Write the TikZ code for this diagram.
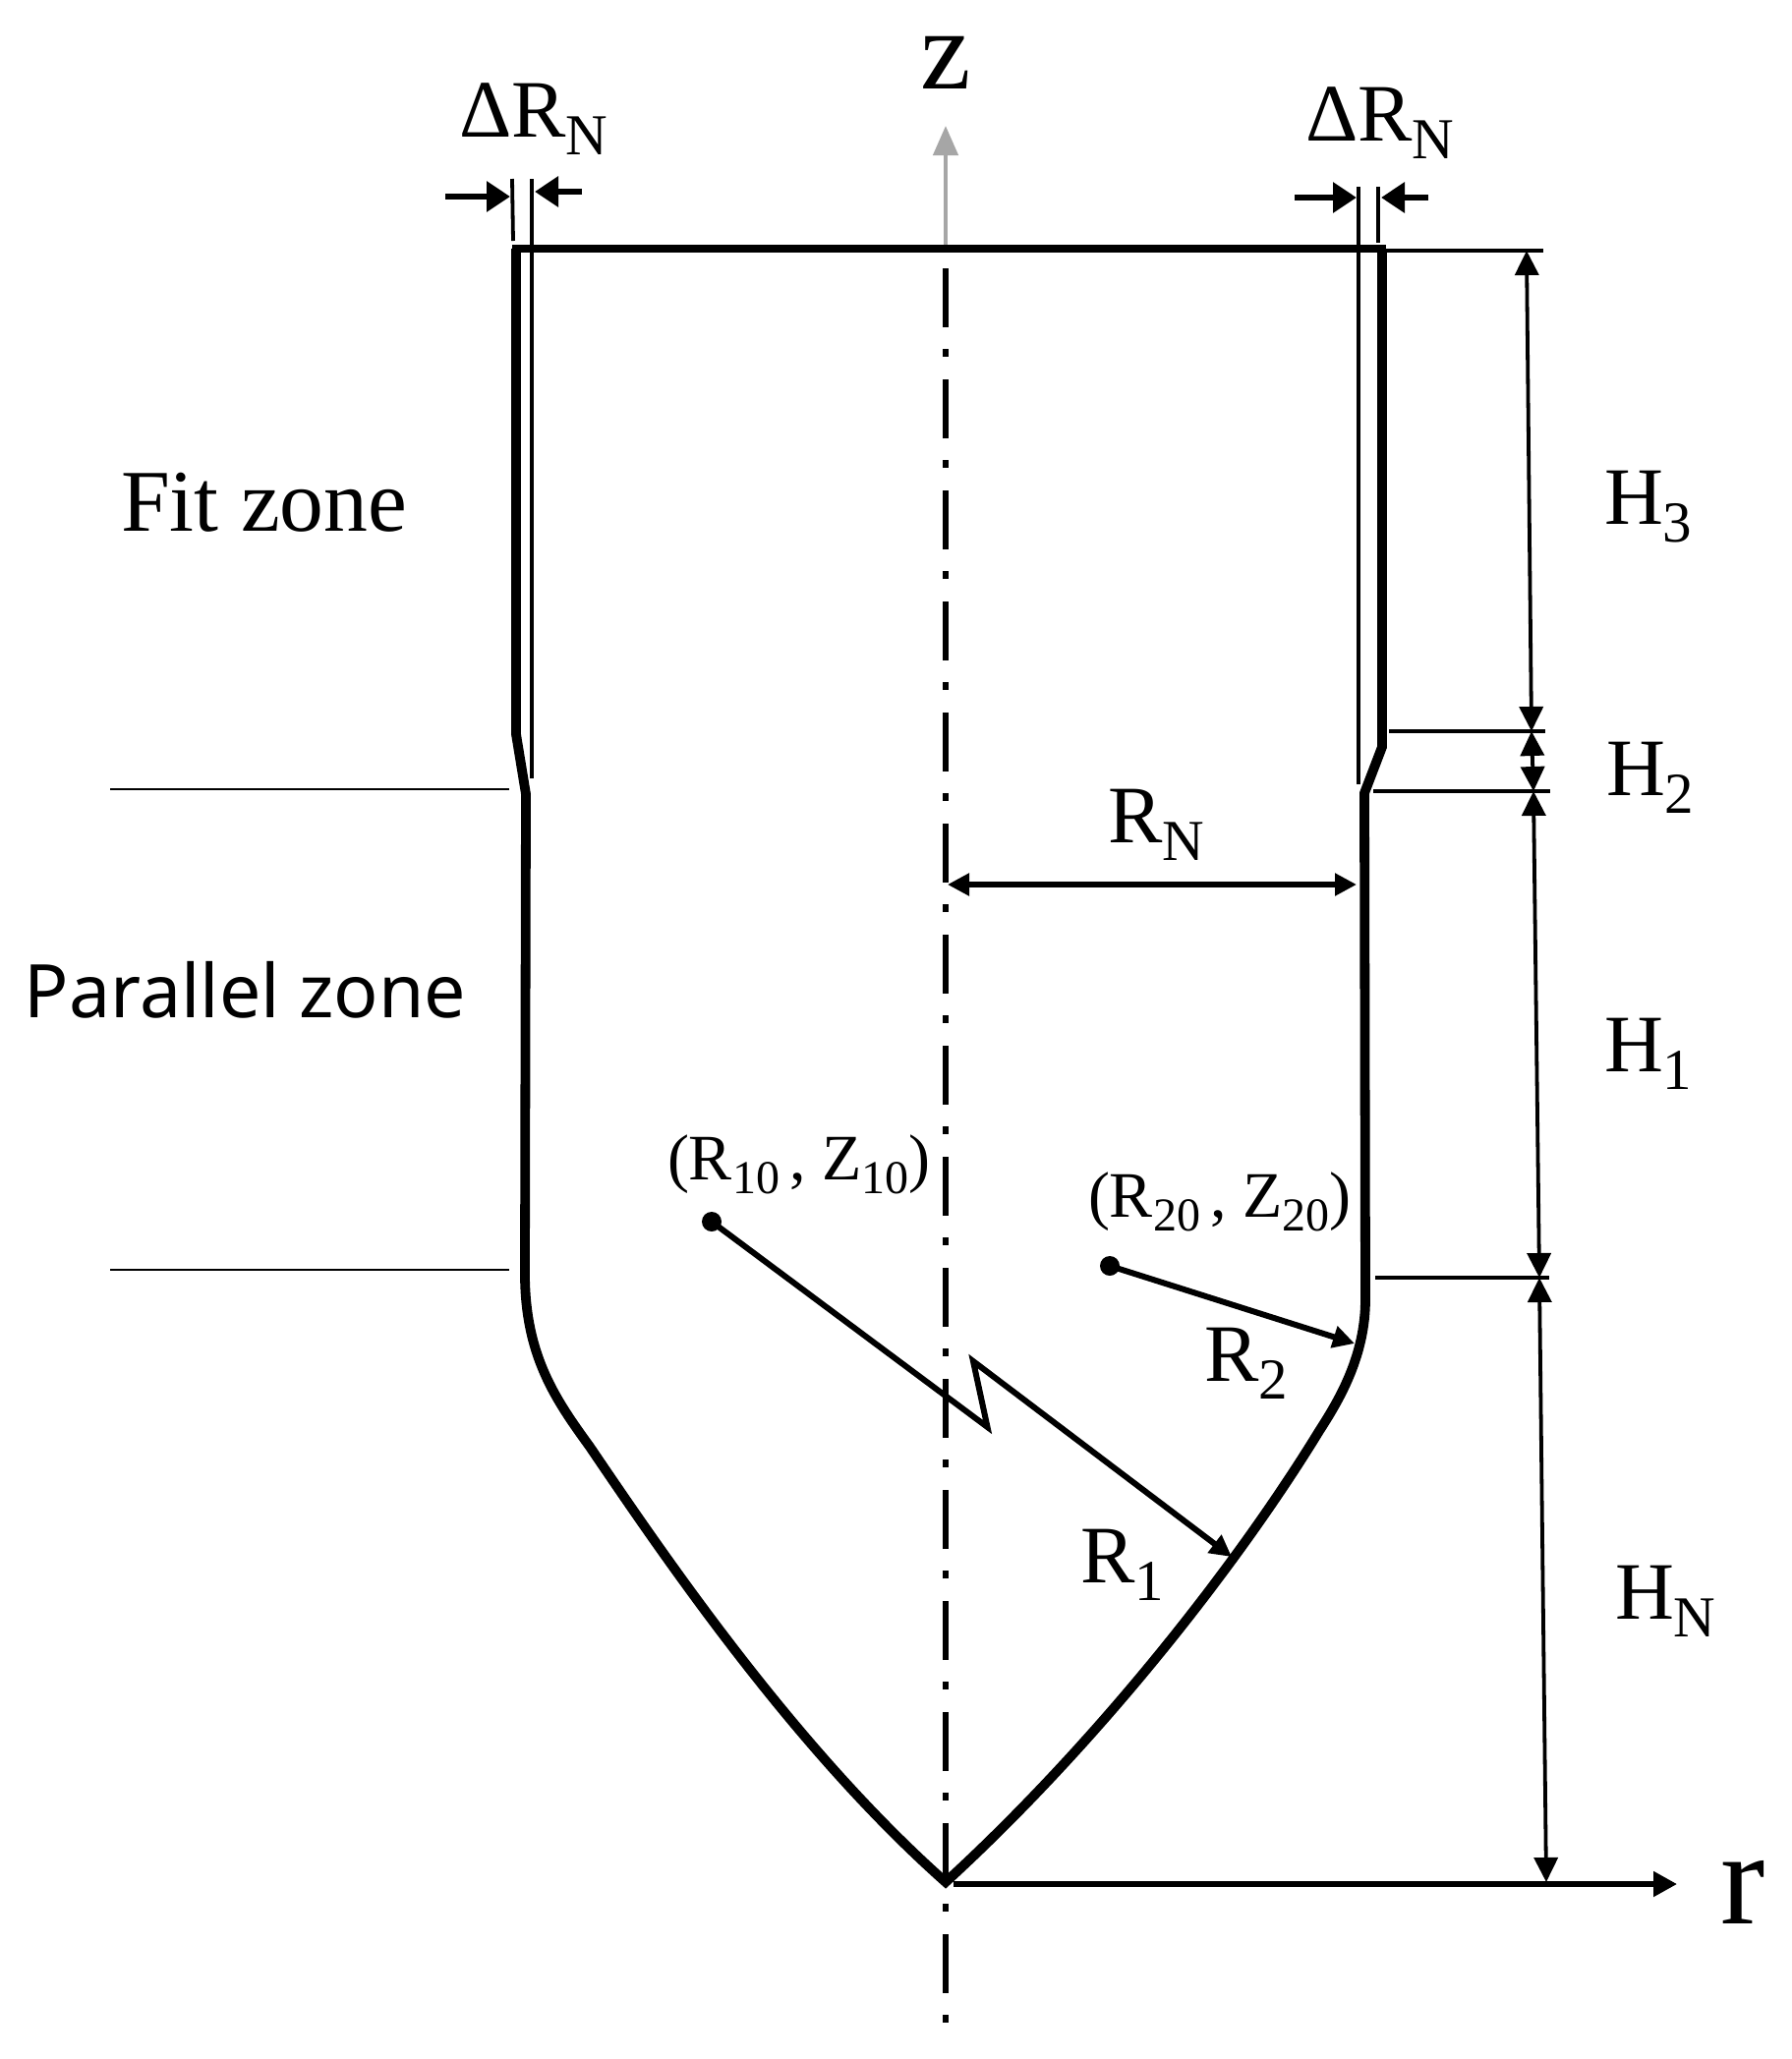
\documentclass[tikz,border=0pt]{standalone}
\usepackage{fontspec}
\setmainfont{Liberation Serif}
\newfontfamily\zonesans{Noto Sans}
\usetikzlibrary{arrows.meta}
\newcommand{\lab}[2]{{\fontsize{41.5}{41.5}\selectfont #1\raisebox{-9pt}{\fontsize{29.5}{29.5}\selectfont #2}}}
\newcommand{\cent}[2]{{\fontsize{33}{33}\selectfont (R\raisebox{-7pt}{\fontsize{24}{24}\selectfont #1}\hspace{5pt},\hspace{8.5pt}Z\raisebox{-7pt}{\fontsize{24}{24}\selectfont #2})}}
\tikzset{
  txt/.style={anchor=base west,inner sep=0pt,outer sep=0pt},
  wall/.style={line width=4.9pt,line join=miter},
  thinrule/.style={line width=1.9pt},
  hairrule/.style={line width=1.1pt},
  dimarrow/.style={line width=1.9pt,{Triangle[length=12.5pt,width=12pt]}-{Triangle[length=12.5pt,width=12pt]}},
  blockarrow/.style={line width=3.4pt,-{Triangle[length=12pt,width=15pt]},shorten >=0pt},
  radiusarrow/.style={line width=3pt,-{Triangle[length=11pt,width=11pt]}},
  dotnode/.style={circle,fill=black,inner sep=0pt,minimum size=10pt},
}
\begin{document}
\begin{tikzpicture}[x=0.5pt,y=-0.5pt]
\useasboundingbox (0,0) rectangle (1822,2095);
\fill[white] (0,0) rectangle (1822,2095);
% key points
\coordinate (tl) at (525,253);
\coordinate (tr) at (1406,253);
\coordinate (tip) at (962,1915);
\coordinate (axtop) at (962,253);
\coordinate (axbot) at (962,2058);
\coordinate (ztop) at (962,128);
% axis
\draw[line width=3pt,dash pattern=on 4pt off 11pt on 30pt off 11.5pt] (axbot) -- (axtop);
\draw[line width=2.2pt,color={rgb,255:red,166;green,166;blue,166},-{Triangle[length=15pt,width=12.5pt]}] (962,250) -- (ztop);
% nozzle
\draw[line width=3.6pt] (521,253) -- (1410,253);
\draw[wall] (tl) -- (525,747) -- (535,808) -- (534,1296)
  .. controls (534,1380) and (566,1425) .. (600,1472)
  .. controls (680,1590) and (810,1780) .. (tip)
  .. controls (1120,1770) and (1260,1590) .. (1342,1456)
  .. controls (1362,1425) and (1389,1380) .. (1389,1322)
  -- (1388,807) -- (1406,760) -- (tr);
% inner lines and ticks
\draw[thinrule] (541,182) -- (541,792);
\draw[thinrule] (521,182) -- (522,245);
\draw[thinrule] (1382,190) -- (1382,798);
\draw[thinrule] (1402,190) -- (1402,247);
\coordinate (a1) at (453,200); \coordinate (a1e) at (519,200);
\coordinate (a2) at (592,195); \coordinate (a2e) at (544,195);
\coordinate (a3) at (1317,201); \coordinate (a3e) at (1380,201);
\coordinate (a4) at (1453,201); \coordinate (a4e) at (1405,201);
\draw[blockarrow] (a1) -- (a1e);
\draw[blockarrow] (a2) -- (a2e);
\draw[blockarrow] (a3) -- (a3e);
\draw[blockarrow] (a4) -- (a4e);
% zone rules
\draw[hairrule] (112,803) -- (518,803);
\draw[hairrule] (112,1292) -- (518,1292);
% height rules
\coordinate (h0) at (1553,255);
\coordinate (h1) at (1558,744);
\coordinate (h2) at (1560,805);
\coordinate (h3) at (1566,1300);
\coordinate (h4) at (1573,1915);
\draw[thinrule] (1407,255) -- (1570,255);
\draw[thinrule] (1413,744) -- (1572,744);
\draw[thinrule] (1397,805) -- (1577,805);
\draw[thinrule] (1399,1300) -- (1576,1300);
\draw[dimarrow] (h0) -- (h1);
\draw[dimarrow] (h1) -- (h2);
\draw[dimarrow] (h2) -- (h3);
\draw[dimarrow] (h3) -- (h4);
% r axis
\coordinate (r0) at (970,1917);
\coordinate (r1) at (1706,1917);
\draw[line width=2.6pt,-{Triangle[length=12pt,width=12.5pt]}] (r0) -- (r1);
% RN
\coordinate (rn0) at (964,900);
\coordinate (rn1) at (1380,900);
\draw[line width=2.6pt,{Triangle[length=11pt,width=11pt]}-{Triangle[length=11pt,width=11pt]}] (rn0) -- (rn1);
% radii
\node[dotnode] (c1) at (724,1243) {};
\node[dotnode] (c2) at (1129,1288) {};
\coordinate (z1) at (1004.5,1452);
\coordinate (z2) at (990,1385);
\coordinate (e1) at (1253,1584);
\coordinate (e2) at (1378,1367);
\draw[radiusarrow,line join=miter] (c1.center) -- (z1) -- (z2) -- (e1);
\draw[radiusarrow] (c2.center) -- (e2);
% labels
\node[txt] (dl) at (467,139) {\lab{ΔR}{N}};
\node[txt] (dr) at (1328,143) {\lab{ΔR}{N}};
\node[anchor=base,inner sep=0pt] (zl) at (962,90) {\fontsize{58}{58}\selectfont z};
\node[txt] (rl) at (1750,1957) {\fontsize{68}{68}\selectfont r};
\node[txt] (fit) at (123,540) {\fontsize{44.8}{44.8}\selectfont Fit zone};
\node[txt] (par) at (25,1035) {\zonesans\fontsize{37.6}{37.6}\selectfont Parallel zone};
\node[txt] (H3) at (1632,533) {\lab{H}{3}};
\node[txt] (H2) at (1634,809) {\lab{H}{2}};
\node[txt] (H1) at (1632,1090) {\lab{H}{1}};
\node[txt] (HN) at (1643,1647) {\lab{H}{N}};
\node[txt] (RN) at (1127,857) {\lab{R}{N}};
\node[txt] (R2) at (1225,1405) {\lab{R}{2}};
\node[txt] (R1) at (1099,1610) {\lab{R}{1}};
\node[txt] (C1) at (679,1200) {\cent{10}{10}};
\node[txt] (C2) at (1107,1238) {\cent{20}{20}};
\end{tikzpicture}
\end{document}
